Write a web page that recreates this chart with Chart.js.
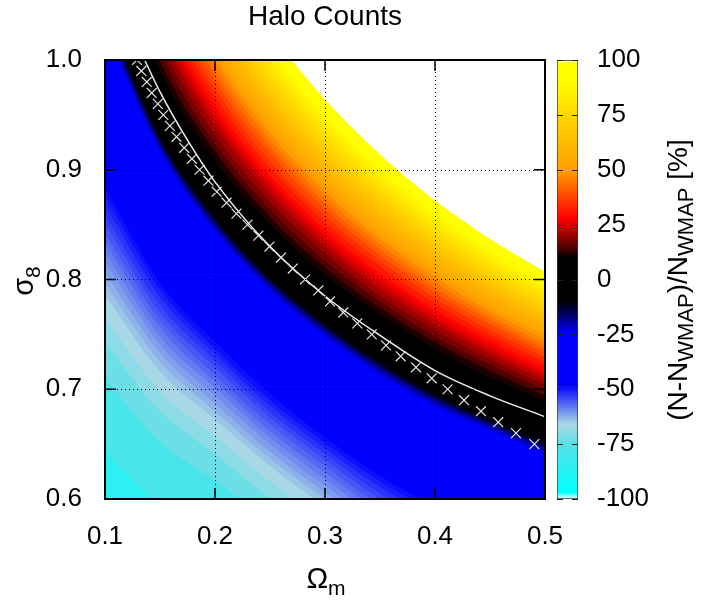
<!DOCTYPE html>
<html>
<head>
<meta charset="utf-8">
<title>Halo Counts</title>
<script src="https://cdn.jsdelivr.net/npm/chart.js@4.4.1/dist/chart.umd.min.js"></script>
<style>
  html, body { margin: 0; padding: 0; background: #fff; }
  #wrap { position: relative; width: 710px; height: 601px; }
  #wrap canvas { position: absolute; left: 0; top: 0; }
</style>
</head>
<body>
<div id="wrap">
  <canvas id="map" width="710" height="601"></canvas>
  <canvas id="cbar" width="710" height="601"></canvas>
</div>
<script>
const omegaGrid = [0.10, 0.15, 0.20, 0.25, 0.30, 0.35, 0.40, 0.45, 0.50];

// contour levels (%), and sigma_8 of that contour at each omegaGrid column
const levels = [-82, -75, -71, -68, -65, -63.5, -62, -60.5, -59, -57.5, -56, -54.5, -53, -51.5, -50, -48.5, -47,
                -25, -21, -17, -13, -10,
                10, 13, 16, 19, 22, 24, 26, 28, 30, 33, 36, 39, 42, 45, 48, 51, 54, 57, 60,
                63, 66, 69, 72, 75, 78, 81, 84, 87, 90, 93, 96, 100];
const contourSigma8 = [
  [0.643, 0.595, 0.567, 0.531, 0.498, 0.464, 0.440, 0.425, 0.412],
  [0.710, 0.652, 0.617, 0.578, 0.543, 0.508, 0.483, 0.467, 0.452],
  [0.742, 0.680, 0.641, 0.600, 0.564, 0.529, 0.504, 0.487, 0.472],
  [0.765, 0.698, 0.657, 0.616, 0.579, 0.544, 0.518, 0.501, 0.485],
  [0.786, 0.716, 0.673, 0.630, 0.593, 0.558, 0.532, 0.514, 0.498],
  [0.796, 0.725, 0.680, 0.637, 0.600, 0.565, 0.538, 0.520, 0.504],
  [0.806, 0.733, 0.687, 0.643, 0.606, 0.571, 0.544, 0.526, 0.510],
  [0.816, 0.741, 0.694, 0.650, 0.612, 0.577, 0.550, 0.532, 0.516],
  [0.825, 0.748, 0.701, 0.656, 0.618, 0.583, 0.556, 0.537, 0.521],
  [0.834, 0.756, 0.707, 0.662, 0.624, 0.589, 0.562, 0.543, 0.527],
  [0.842, 0.763, 0.713, 0.668, 0.630, 0.594, 0.568, 0.548, 0.532],
  [0.851, 0.770, 0.720, 0.674, 0.636, 0.600, 0.574, 0.554, 0.537],
  [0.859, 0.777, 0.726, 0.679, 0.641, 0.605, 0.579, 0.559, 0.542],
  [0.868, 0.784, 0.732, 0.685, 0.646, 0.611, 0.584, 0.564, 0.547],
  [0.876, 0.791, 0.737, 0.690, 0.651, 0.616, 0.589, 0.569, 0.551],
  [0.884, 0.797, 0.743, 0.696, 0.656, 0.621, 0.594, 0.574, 0.556],
  [0.891, 0.803, 0.748, 0.701, 0.661, 0.626, 0.599, 0.578, 0.561],
  [1.027, 0.916, 0.844, 0.790, 0.748, 0.713, 0.684, 0.662, 0.641],
  [1.032, 0.920, 0.847, 0.793, 0.751, 0.716, 0.687, 0.665, 0.644],
  [1.036, 0.924, 0.851, 0.797, 0.755, 0.720, 0.691, 0.668, 0.647],
  [1.041, 0.927, 0.854, 0.799, 0.757, 0.722, 0.693, 0.670, 0.649],
  [1.046, 0.931, 0.857, 0.802, 0.760, 0.725, 0.696, 0.673, 0.652],
  [1.118, 0.990, 0.908, 0.850, 0.804, 0.768, 0.737, 0.711, 0.689],
  [1.129, 0.999, 0.917, 0.857, 0.811, 0.774, 0.743, 0.717, 0.694],
  [1.139, 1.008, 0.924, 0.864, 0.817, 0.780, 0.748, 0.722, 0.699],
  [1.150, 1.017, 0.932, 0.871, 0.824, 0.785, 0.754, 0.727, 0.704],
  [1.160, 1.026, 0.940, 0.878, 0.830, 0.791, 0.759, 0.732, 0.708],
  [1.167, 1.032, 0.945, 0.883, 0.834, 0.795, 0.763, 0.735, 0.711],
  [1.173, 1.037, 0.950, 0.887, 0.838, 0.799, 0.766, 0.738, 0.714],
  [1.180, 1.043, 0.955, 0.891, 0.842, 0.803, 0.770, 0.742, 0.717],
  [1.186, 1.048, 0.960, 0.895, 0.846, 0.806, 0.773, 0.745, 0.720],
  [1.196, 1.057, 0.967, 0.902, 0.852, 0.812, 0.778, 0.750, 0.725],
  [1.206, 1.065, 0.974, 0.908, 0.858, 0.817, 0.783, 0.754, 0.729],
  [1.215, 1.073, 0.981, 0.915, 0.864, 0.822, 0.788, 0.759, 0.733],
  [1.224, 1.081, 0.988, 0.921, 0.869, 0.827, 0.792, 0.763, 0.737],
  [1.234, 1.089, 0.995, 0.927, 0.875, 0.832, 0.797, 0.767, 0.741],
  [1.243, 1.096, 1.001, 0.933, 0.880, 0.837, 0.802, 0.771, 0.745],
  [1.252, 1.104, 1.008, 0.939, 0.886, 0.842, 0.807, 0.776, 0.749],
  [1.260, 1.111, 1.014, 0.945, 0.891, 0.847, 0.811, 0.780, 0.753],
  [1.269, 1.119, 1.021, 0.951, 0.896, 0.852, 0.815, 0.784, 0.757],
  [1.278, 1.126, 1.027, 0.956, 0.901, 0.856, 0.819, 0.788, 0.761],
  [1.287, 1.133, 1.034, 0.962, 0.906, 0.861, 0.824, 0.792, 0.765],
  [1.295, 1.140, 1.040, 0.967, 0.911, 0.866, 0.828, 0.796, 0.768],
  [1.303, 1.147, 1.046, 0.973, 0.916, 0.871, 0.832, 0.800, 0.772],
  [1.311, 1.154, 1.052, 0.978, 0.921, 0.875, 0.836, 0.803, 0.775],
  [1.319, 1.161, 1.058, 0.984, 0.926, 0.879, 0.840, 0.807, 0.779],
  [1.327, 1.167, 1.064, 0.989, 0.931, 0.883, 0.844, 0.811, 0.782],
  [1.335, 1.174, 1.070, 0.994, 0.936, 0.888, 0.848, 0.815, 0.786],
  [1.343, 1.181, 1.075, 0.999, 0.940, 0.892, 0.852, 0.818, 0.789],
  [1.351, 1.188, 1.081, 1.004, 0.945, 0.896, 0.856, 0.822, 0.793],
  [1.359, 1.194, 1.087, 1.009, 0.949, 0.900, 0.860, 0.826, 0.796],
  [1.367, 1.200, 1.093, 1.014, 0.954, 0.905, 0.864, 0.830, 0.799],
  [1.374, 1.206, 1.098, 1.019, 0.958, 0.909, 0.868, 0.833, 0.802],
  [1.384, 1.215, 1.105, 1.026, 0.964, 0.914, 0.872, 0.837, 0.807]
];

// x markers: where N = N_WMAP
const markerOmega = [0.129, 0.133, 0.138, 0.1425, 0.148, 0.153, 0.159, 0.165, 0.172, 0.179,
                     0.186, 0.194, 0.2015, 0.2105, 0.2195, 0.2295, 0.2394, 0.2495, 0.260, 0.2707,
                     0.2818, 0.2939, 0.3045, 0.3166, 0.3294, 0.3425, 0.3555, 0.3688, 0.3827, 0.397,
                     0.4115, 0.4264, 0.4418, 0.4575, 0.4736, 0.4903];
const markerSigma8 = [1.00, 0.99, 0.98, 0.97, 0.96, 0.95, 0.94, 0.93, 0.92, 0.91,
                      0.90, 0.89, 0.88, 0.87, 0.86, 0.85, 0.84, 0.83, 0.82, 0.81,
                      0.80, 0.79, 0.78, 0.77, 0.76, 0.75, 0.74, 0.73, 0.72, 0.71,
                      0.70, 0.69, 0.68, 0.67, 0.66, 0.65];

// white fitted curve
const fitOmega = [0.136, 0.15, 0.175, 0.2, 0.25, 0.3, 0.35, 0.4, 0.45, 0.5];
const fitSigma8 = [1.000, 0.971, 0.927, 0.889, 0.830, 0.785, 0.749, 0.717, 0.694, 0.675];

const xTicks = [0.1, 0.2, 0.3, 0.4, 0.5];
const yTicks = [0.6, 0.7, 0.8, 0.9, 1.0];
const cbTicks = [-100, -75, -50, -25, 0, 25, 50, 75, 100];

const paletteStops = [-100, -97, -75, -66, -48, -25, -10, 10, 14, 28, 50, 75, 92, 98.5, 100];
const paletteColors = ['#ffffff', '#00ffff', '#58e0e6', '#add8e6', '#0000ff', '#0000ff', '#000000',
                       '#000000', '#4a0000', '#ff0000', '#ffa000', '#ffd700', '#ffff00', '#ffff00', '#ffffff'];

const FONT = "'Liberation Sans', Arial, Helvetica, sans-serif";
Chart.defaults.font.family = FONT;
Chart.defaults.color = '#000';

const hexRgb = (h) => [1, 3, 5].map(i => parseInt(h.slice(i, i + 2), 16));
const paletteColor = (v) => {
  let i = 0;
  while (i < paletteStops.length - 2 && v > paletteStops[i + 1]) i++;
  let t = (v - paletteStops[i]) / (paletteStops[i + 1] - paletteStops[i]);
  t = Math.min(1, Math.max(0, t));
  const a = hexRgb(paletteColors[i]);
  const b = hexRgb(paletteColors[i + 1]);
  const c = a.map((av, k) => Math.round(av + (b[k] - av) * t));
  return `rgb(${c[0]},${c[1]},${c[2]})`;
};

const drawRich = (ctx, parts, X, Y, rotated) => {
  ctx.save();
  ctx.translate(X, Y);
  if (rotated) ctx.rotate(-Math.PI / 2);
  ctx.fillStyle = '#000';
  ctx.textBaseline = 'alphabetic';
  ctx.textAlign = 'left';
  let w = 0;
  parts.forEach(p => {
    ctx.font = `${p.size}px ${FONT}`;
    p.w = ctx.measureText(p.text).width;
    w += p.w;
  });
  let u = -w / 2;
  parts.forEach(p => {
    ctx.font = `${p.size}px ${FONT}`;
    ctx.fillText(p.text, u, p.dy || 0);
    u += p.w;
  });
  ctx.restore();
};

// bands: every contour fills up to the top, higher levels painted over lower ones
const bandSets = levels.map((lv, i) => {
  const next = levels[i + 1];
  return {
    type: 'line',
    data: omegaGrid.map((om, j) => ({ x: om, y: contourSigma8[i][j] })),
    borderWidth: 0,
    borderColor: 'rgba(0,0,0,0)',
    pointRadius: 0,
    fill: 'end',
    backgroundColor: next === undefined ? '#ffffff' : paletteColor((lv + next) / 2),
    cubicInterpolationMode: 'monotone',
    order: 10 + levels.length - i
  };
});

const mapFrame = {
  id: 'mapFrame',
  beforeDatasetsDraw(chart) {
    const { ctx, chartArea: a } = chart;
    ctx.save();
    ctx.fillStyle = paletteColor(-86);
    ctx.fillRect(a.left, a.top, a.right - a.left, a.bottom - a.top);
    ctx.restore();
  },
  afterDatasetsDraw(chart) {
    const { ctx, chartArea: a, scales: { x, y } } = chart;
    ctx.save();
    ctx.strokeStyle = '#000';
    ctx.lineWidth = 1;
    ctx.setLineDash([1, 3]);
    ctx.beginPath();
    xTicks.slice(1, -1).forEach(v => {
      const px = Math.round(x.getPixelForValue(v)) + 0.5;
      ctx.moveTo(px, a.top); ctx.lineTo(px, a.bottom);
    });
    yTicks.slice(1, -1).forEach(v => {
      const py = Math.round(y.getPixelForValue(v)) + 0.5;
      ctx.moveTo(a.left, py); ctx.lineTo(a.right, py);
    });
    ctx.stroke();
    ctx.setLineDash([]);
    ctx.lineWidth = 1.5;
    ctx.beginPath();
    xTicks.forEach(v => {
      const px = x.getPixelForValue(v);
      ctx.moveTo(px, a.bottom); ctx.lineTo(px, a.bottom - 11);
      ctx.moveTo(px, a.top); ctx.lineTo(px, a.top + 11);
    });
    yTicks.forEach(v => {
      const py = y.getPixelForValue(v);
      ctx.moveTo(a.left, py); ctx.lineTo(a.left + 11, py);
      ctx.moveTo(a.right, py); ctx.lineTo(a.right - 11, py);
    });
    ctx.stroke();
    ctx.lineWidth = 2;
    ctx.strokeRect(a.left, a.top, a.right - a.left, a.bottom - a.top);
    ctx.restore();
  },
  afterDraw(chart) {
    const ctx = chart.ctx;
    drawRich(ctx, [{ text: 'σ', size: 29 }, { text: '8', size: 21, dy: 7 }], 33, 281, true);
    drawRich(ctx, [{ text: 'Ω', size: 29 }, { text: 'm', size: 21, dy: 7 }], 326, 588, false);
  }
};

new Chart(document.getElementById('map'), {
  type: 'line',
  data: {
    datasets: [
      {
        type: 'line',
        data: markerOmega.map((om, i) => ({ x: om, y: markerSigma8[i] })),
        showLine: false,
        pointStyle: 'crossRot',
        pointRadius: 7,
        pointBorderWidth: 1.2,
        pointBorderColor: '#e6e6e6',
        pointBackgroundColor: 'rgba(0,0,0,0)',
        order: 0
      },
      {
        type: 'line',
        data: fitOmega.map((om, i) => ({ x: om, y: fitSigma8[i] })),
        borderColor: '#eeeeee',
        borderWidth: 1.5,
        pointRadius: 0,
        fill: false,
        cubicInterpolationMode: 'monotone',
        order: 1
      },
      ...bandSets
    ]
  },
  options: {
    responsive: false,
    animation: false,
    events: [],
    elements: { line: { capBezierPoints: false } },
    layout: { padding: { left: 0, right: 165, top: 0, bottom: 0 } },
    plugins: {
      legend: { display: false },
      tooltip: { enabled: false },
      title: {
        display: true,
        text: 'Halo Counts',
        fullSize: false,
        color: '#000',
        font: { size: 28, weight: 'normal' },
        padding: { top: 0, bottom: 26.4 }
      }
    },
    scales: {
      x: {
        type: 'linear',
        min: 0.1,
        max: 0.5,
        afterBuildTicks: (s) => { s.ticks = xTicks.map(v => ({ value: v })); },
        afterFit: (s) => { s.height = 102; },
        grid: { display: false, drawTicks: false },
        border: { display: false },
        ticks: { font: { size: 26 }, color: '#000', padding: 22, maxRotation: 0, autoSkip: false,
                 callback: (v) => Number(v).toFixed(1) }
      },
      y: {
        type: 'linear',
        min: 0.6,
        max: 1.0,
        afterBuildTicks: (s) => { s.ticks = yTicks.map(v => ({ value: v })); },
        afterFit: (s) => { s.width = 105; },
        grid: { display: false, drawTicks: false },
        border: { display: false },
        ticks: { font: { size: 26 }, color: '#000', padding: 23, autoSkip: false,
                 callback: (v) => Number(v).toFixed(1) }
      }
    }
  },
  plugins: [mapFrame]
});

// colour bar
const cbarFrame = {
  id: 'cbarFrame',
  afterDraw(chart) {
    const { ctx, chartArea: a, scales: { y } } = chart;
    ctx.save();
    ctx.strokeStyle = '#222';
    ctx.lineWidth = 1.2;
    ctx.beginPath();
    cbTicks.forEach(v => {
      const py = Math.round(y.getPixelForValue(v)) + 0.5;
      ctx.moveTo(a.left, py); ctx.lineTo(a.left + 6, py);
      ctx.moveTo(a.right - 6, py); ctx.lineTo(a.right, py);
    });
    ctx.stroke();
    ctx.restore();
    drawRich(ctx, [
      { text: '(N-N', size: 28 },
      { text: 'WMAP', size: 22, dy: 6 },
      { text: ')/N', size: 28 },
      { text: 'WMAP', size: 22, dy: 6 },
      { text: ' [%]', size: 28 }
    ], 687, 280, true);
  }
};

new Chart(document.getElementById('cbar'), {
  type: 'bar',
  data: {
    labels: [''],
    datasets: [{
      data: [[-100, 100]],
      backgroundColor: (c) => {
        const chart = c.chart;
        if (!chart.chartArea) return null;
        const ys = chart.scales.y;
        const g = chart.ctx.createLinearGradient(0, ys.getPixelForValue(-100), 0, ys.getPixelForValue(100));
        paletteStops.forEach((v, i) => g.addColorStop((v + 100) / 200, paletteColors[i]));
        return g;
      },
      borderColor: '#333',
      borderWidth: 1,
      borderSkipped: false,
      barPercentage: 1,
      categoryPercentage: 1
    }]
  },
  options: {
    responsive: false,
    animation: false,
    events: [],
    layout: { padding: { left: 557, top: 60, bottom: 102, right: 0 } },
    plugins: { legend: { display: false }, tooltip: { enabled: false } },
    scales: {
      x: { display: false },
      y: {
        position: 'right',
        min: -100,
        max: 100,
        afterBuildTicks: (s) => { s.ticks = cbTicks.map(v => ({ value: v })); },
        afterFit: (s) => { s.width = 132; },
        grid: { display: false, drawTicks: false },
        border: { display: false },
        ticks: { font: { size: 26 }, color: '#000', padding: 19, autoSkip: false }
      }
    }
  },
  plugins: [cbarFrame]
});
</script>
</body>
</html>
